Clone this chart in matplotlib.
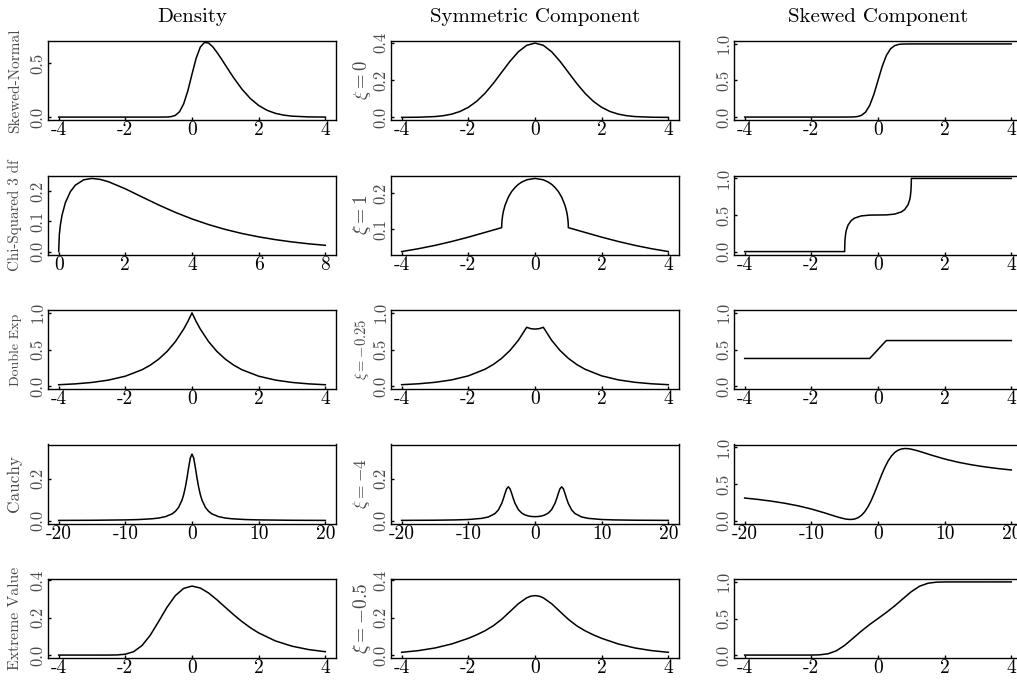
import matplotlib
matplotlib.use("Agg")
import matplotlib.pyplot as plt

plt.rcParams['font.family'] = ['cmr10', 'DejaVu Serif']
plt.rcParams['mathtext.fontset'] = 'cm'
plt.rcParams['axes.unicode_minus'] = False

# ---------------- data ----------------
col_titles = ["Density", "Symmetric Component", "Skewed Component"]
row_labels = ["Skewed-Normal", "Chi-Squared 3 df", "Double Exp", "Cauchy", "Extreme Value"]
xi_labels = [r"$\xi = 0$", r"$\xi = 1$", r"$\xi = -0.25$", r"$\xi = -4$", r"$\xi = -0.5$"]

# Row 1: skewed normal
sn_x = [-4, -2, -1, -0.75, -0.625, -0.5, -0.375, -0.25, -0.125, 0, 0.125, 0.25, 0.375, 0.5,
        0.625, 0.75, 0.875, 1, 1.125, 1.25, 1.5, 1.75, 2, 2.25, 2.5, 2.75, 3, 3.5, 4]
sn_y = [0, 0, 0.0000, 0.0008, 0.0041, 0.0161, 0.0497, 0.1227, 0.2442, 0.3989, 0.5474, 0.6507,
        0.6939, 0.6881, 0.6523, 0.6014, 0.5439, 0.4839, 0.4238, 0.3652, 0.2590, 0.1726, 0.1080,
        0.0634, 0.0350, 0.0182, 0.0088, 0.0017, 0.0003]
sn_sym_x = [-4, -3.5, -3, -2.75, -2.5, -2.25, -2, -1.75, -1.5, -1.25, -1, -0.75, -0.5, -0.25, 0,
            0.25, 0.5, 0.75, 1, 1.25, 1.5, 1.75, 2, 2.25, 2.5, 2.75, 3, 3.5, 4]
sn_sym_y = [0.0001, 0.0009, 0.0044, 0.0091, 0.0175, 0.0317, 0.0540, 0.0863, 0.1295, 0.1826,
            0.2420, 0.3011, 0.3521, 0.3867, 0.3989, 0.3867, 0.3521, 0.3011, 0.2420, 0.1826,
            0.1295, 0.0863, 0.0540, 0.0317, 0.0175, 0.0091, 0.0044, 0.0009, 0.0001]
sn_skw_x = [-4, -1, -0.75, -0.625, -0.5, -0.375, -0.25, -0.125, 0, 0.125, 0.25, 0.375, 0.5,
            0.625, 0.75, 1, 4]
sn_skw_y = [0, 0.0000, 0.0013, 0.0062, 0.0228, 0.0668, 0.1587, 0.3085, 0.5, 0.6915, 0.8413,
            0.9332, 0.9772, 0.9938, 0.9987, 1.0, 1.0]

# Row 2: chi-squared 3 df
chi_x = [0, 0.02, 0.05, 0.1, 0.2, 0.35, 0.5, 0.75, 1, 1.25, 1.5, 2, 2.5, 3, 3.5, 4, 4.5, 5,
         5.5, 6, 6.5, 7, 7.5, 8]
chi_y = [0, 0.0559, 0.0870, 0.1200, 0.1614, 0.1981, 0.2197, 0.2374, 0.2420, 0.2387, 0.2308,
         0.2076, 0.1807, 0.1542, 0.1297, 0.1080, 0.0892, 0.0732, 0.0598, 0.0487, 0.0395,
         0.0319, 0.0257, 0.0207]
chi_sym_x = [-4, -3.5, -3, -2.5, -2, -1.5, -1, -0.999, -0.99, -0.97, -0.95, -0.9, -0.8, -0.7,
             -0.6, -0.5, -0.4, -0.25, 0, 0.25, 0.4, 0.5, 0.6, 0.7, 0.8, 0.9, 0.95, 0.97, 0.99,
             0.999, 1, 1.5, 2, 2.5, 3, 3.5, 4]
chi_sym_y = [0.0366, 0.0446, 0.0540, 0.0649, 0.0771, 0.0904, 0.1038, 0.1101, 0.1239, 0.1386,
             0.1486, 0.1663, 0.1895, 0.2052, 0.2166, 0.2253, 0.2316, 0.2381, 0.2420, 0.2381,
             0.2316, 0.2253, 0.2166, 0.2052, 0.1895, 0.1663, 0.1486, 0.1386, 0.1239, 0.1101,
             0.1038, 0.0904, 0.0771, 0.0649, 0.0540, 0.0446, 0.0366]
chi_skw_x = [-4, -1, -0.999, -0.99, -0.97, -0.95, -0.9, -0.8, -0.7, -0.5, -0.25, 0, 0.25, 0.5,
             0.7, 0.8, 0.9, 0.95, 0.97, 0.99, 0.999, 1, 4]
chi_skw_y = [0, 0, 0.0572, 0.160, 0.2457, 0.2928, 0.3608, 0.4259, 0.4583, 0.4877, 0.4986, 0.5,
             0.5014, 0.5123, 0.5417, 0.5741, 0.6392, 0.7072, 0.7543, 0.840, 0.9428, 1.0, 1.0]

# Row 3: double exponential
de_x = [-4, -3.5, -3, -2.5, -2, -1.5, -1.25, -1, -0.75, -0.5, -0.25, -0.125, 0, 0.125, 0.25,
        0.5, 0.75, 1, 1.25, 1.5, 2, 2.5, 3, 3.5, 4]
de_y = [0.0183, 0.0302, 0.0498, 0.0821, 0.1353, 0.2231, 0.2865, 0.3679, 0.4724, 0.6065,
        0.7788, 0.8825, 1.0, 0.8825, 0.7788, 0.6065, 0.4724, 0.3679, 0.2865, 0.2231, 0.1353,
        0.0821, 0.0498, 0.0302, 0.0183]
de_sym_x = de_x
de_sym_y = [0.0189, 0.0311, 0.0514, 0.0847, 0.1396, 0.2301, 0.2955, 0.3795, 0.4872, 0.6256,
            0.8033, 0.7849, 0.7788, 0.7849, 0.8033, 0.6256, 0.4872, 0.3795, 0.2955, 0.2301,
            0.1396, 0.0847, 0.0514, 0.0311, 0.0189]
de_skw_x = [-4, -0.25, -0.125, 0, 0.125, 0.25, 4]
de_skw_y = [0.3775, 0.3775, 0.4378, 0.5, 0.5622, 0.6225, 0.6225]

# Row 4: Cauchy
ca_x = [-20, -15, -10, -8, -6, -5, -4, -3, -2.5, -2, -1.5, -1.25, -1, -0.75, -0.5, -0.25, 0,
        0.25, 0.5, 0.75, 1, 1.25, 1.5, 2, 2.5, 3, 4, 5, 6, 8, 10, 15, 20]
ca_y = [0.0008, 0.0014, 0.0032, 0.0049, 0.0086, 0.0122, 0.0187, 0.0318, 0.0439, 0.0637,
        0.0979, 0.1242, 0.1592, 0.2037, 0.2546, 0.2996, 0.3183, 0.2996, 0.2546, 0.2037,
        0.1592, 0.1242, 0.0979, 0.0637, 0.0439, 0.0318, 0.0187, 0.0122, 0.0086, 0.0049,
        0.0032, 0.0014, 0.0008]
ca_sym_x = [-20, -15, -12, -10, -8, -7, -6, -5.5, -5, -4.75, -4.5, -4.25, -4, -3.75, -3.5,
            -3.25, -3, -2.5, -2, -1.5, -1, -0.5, 0, 0.5, 1, 1.5, 2, 2.5, 3, 3.25, 3.5, 3.75,
            4, 4.25, 4.5, 4.75, 5, 5.5, 6, 7, 8, 10, 12, 15, 20]
ca_sym_y = [0.0009, 0.0017, 0.0031, 0.0051, 0.0105, 0.0172, 0.0335, 0.0507, 0.0816, 0.1039,
            0.1295, 0.1521, 0.1616, 0.1524, 0.1301, 0.1049, 0.0828, 0.0527, 0.0362, 0.0271,
            0.0220, 0.0195, 0.0187, 0.0195, 0.0220, 0.0271, 0.0362, 0.0527, 0.0828, 0.1049,
            0.1301, 0.1524, 0.1616, 0.1521, 0.1295, 0.1039, 0.0816, 0.0507, 0.0335, 0.0172,
            0.0105, 0.0051, 0.0031, 0.0017, 0.0009]
ca_skw_x = [-20, -18, -16, -14, -12, -10, -8, -7, -6, -5, -4.5, -4, -3.5, -3, -2.5, -2, -1.5,
            -1, -0.5, 0, 0.5, 1, 1.5, 2, 2.5, 3, 3.5, 4, 4.5, 5, 6, 7, 8, 10, 12, 14, 16, 18, 20]
ca_skw_y = [0.3082, 0.2889, 0.2656, 0.2371, 0.2019, 0.1581, 0.1049, 0.0758, 0.0472, 0.0238,
            0.0168, 0.0152, 0.0214, 0.0385, 0.0699, 0.1190, 0.1883, 0.2778, 0.3841, 0.5,
            0.6159, 0.7222, 0.8117, 0.8810, 0.9301, 0.9615, 0.9786, 0.9848, 0.9832, 0.9762,
            0.9528, 0.9242, 0.8951, 0.8419, 0.7981, 0.7629, 0.7344, 0.7111, 0.6918]

# Row 5: extreme value
ev_x = [-4, -3, -2.5, -2.25, -2, -1.75, -1.5, -1.25, -1, -0.75, -0.5, -0.25, 0, 0.25, 0.5,
        0.75, 1, 1.25, 1.5, 1.75, 2, 2.5, 3, 3.5, 4]
ev_y = [0, 0, 0.0001, 0.0007, 0.0046, 0.0182, 0.0507, 0.1064, 0.1794, 0.2549, 0.3170, 0.3555,
        0.3679, 0.3574, 0.3307, 0.2945, 0.2546, 0.2151, 0.1785, 0.1460, 0.1182, 0.0756,
        0.0474, 0.0293, 0.0180]
ev_sym_x = [-4, -3.5, -3, -2.5, -2, -1.75, -1.5, -1.25, -1, -0.75, -0.5, -0.25, -0.125, 0,
            0.125, 0.25, 0.5, 0.75, 1, 1.25, 1.5, 1.75, 2, 2.5, 3, 3.5, 4]
ev_sym_y = [0.0147, 0.0237, 0.0378, 0.0591, 0.0893, 0.1079, 0.1296, 0.1564, 0.1907, 0.2319,
            0.2737, 0.3052, 0.3141, 0.3170, 0.3141, 0.3052, 0.2737, 0.2319, 0.1907, 0.1564,
            0.1296, 0.1079, 0.0893, 0.0591, 0.0378, 0.0237, 0.0147]
ev_skw_x = [-4, -2, -1.75, -1.5, -1.25, -1, -0.75, -0.5, -0.25, 0, 0.25, 0.5, 0.75, 1, 1.25,
            1.5, 1.75, 2, 4]
ev_skw_y = [0, 0.0003, 0.0033, 0.0177, 0.0582, 0.1329, 0.2294, 0.3278, 0.4176, 0.5, 0.5824,
            0.6722, 0.7706, 0.8671, 0.9418, 0.9823, 0.9967, 0.9997, 1.0]

# tick values / labels
xt_std = [-4, -2, 0, 2, 4]
xt_std_lab = ["-4", "-2", "0", "2", "4"]
xt_chi = [0, 2, 4, 6, 8]
xt_chi_lab = ["0", "2", "4", "6", "8"]
xt_ca = [-20, -10, 0, 10, 20]
xt_ca_lab = ["-20", "-10", "0", "10", "20"]
yt_skw = [0.0, 0.5, 1.0]
yt_skw_lab = ["0.0", "0.5", "1.0"]

series = [
    [(sn_x, sn_y), (sn_sym_x, sn_sym_y), (sn_skw_x, sn_skw_y)],
    [(chi_x, chi_y), (chi_sym_x, chi_sym_y), (chi_skw_x, chi_skw_y)],
    [(de_x, de_y), (de_sym_x, de_sym_y), (de_skw_x, de_skw_y)],
    [(ca_x, ca_y), (ca_sym_x, ca_sym_y), (ca_skw_x, ca_skw_y)],
    [(ev_x, ev_y), (ev_sym_x, ev_sym_y), (ev_skw_x, ev_skw_y)],
]

row_xlim = [[(-4.32, 4.32)] * 3,
            [(-0.32, 8.32), (-4.32, 4.32), (-4.32, 4.32)],
            [(-4.32, 4.32)] * 3,
            [(-21.6, 21.6)] * 3,
            [(-4.32, 4.32)] * 3]
row_xt = [[(xt_std, xt_std_lab)] * 3,
          [(xt_chi, xt_chi_lab), (xt_std, xt_std_lab), (xt_std, xt_std_lab)],
          [(xt_std, xt_std_lab)] * 3,
          [(xt_ca, xt_ca_lab)] * 3,
          [(xt_std, xt_std_lab)] * 3]
row_ylim = [[(-0.027, 0.707), (-0.014, 0.41)],
            [(-0.0097, 0.2517), (0.0284, 0.2502)],
            [(-0.04, 1.04), (-0.04, 1.04)],
            [(-0.014, 0.364), (-0.014, 0.364)],
            [(-0.0156, 0.4056), (-0.0156, 0.4056)]]
row_yt = [[([0.0, 0.5], ["0.0", "0.5"]), ([0.0, 0.2, 0.4], ["0.0", "0.2", "0.4"])],
          [([0.0, 0.1, 0.2], ["0.0", "0.1", "0.2"]), ([0.1, 0.2], ["0.1", "0.2"])],
          [(yt_skw, yt_skw_lab), (yt_skw, yt_skw_lab)],
          [([0.0, 0.2], ["0.0", "0.2"]), ([0.0, 0.2], ["0.0", "0.2"])],
          [([0.0, 0.2, 0.4], ["0.0", "0.2", "0.4"]), ([0.0, 0.2, 0.4], ["0.0", "0.2", "0.4"])]]
row_label_size = [11, 10.8, 10, 12.4, 11.3]
xi_size = [13.5, 14, 10.5, 12.5, 14]

# ---------------- layout ----------------
W, H = 1017, 681
fig = plt.figure(figsize=(W / 100, H / 100), dpi=100)
col_left = [48, 391, 734]
row_top = [41, 175.5, 310, 444.5, 579]
pw, ph = 288, 79
gray = '#4a4a4a'

for r in range(5):
    for c in range(3):
        ax = fig.add_axes([col_left[c] / W, 1 - (row_top[r] + ph) / H, pw / W, ph / H])
        xs, ys = series[r][c]
        ax.plot(xs, ys, color='black', lw=1.1)
        ax.set_xlim(*row_xlim[r][c])
        if c < 2:
            ax.set_ylim(*row_ylim[r][c])
            yt, ytl = row_yt[r][c]
        else:
            ax.set_ylim(-0.04, 1.04)
            yt, ytl = yt_skw, yt_skw_lab
        xt, xtl = row_xt[r][c]
        ax.set_xticks(xt)
        ax.set_xticklabels(xtl, fontsize=14)
        ax.set_yticks(yt)
        ax.set_yticklabels(ytl, fontsize=12, rotation=90, va='center', color=gray)
        ax.tick_params(axis='both', direction='in', length=2, width=1)
        ax.tick_params(axis='x', pad=1)
        ax.tick_params(axis='y', pad=2)
        for s in ax.spines.values():
            s.set_linewidth(1.0)
            s.set_color('black')

    yc = 1 - (row_top[r] + ph / 2) / H
    fig.text(19 / W, yc, row_labels[r], rotation=90, rotation_mode='anchor',
             ha='center', va='baseline', fontsize=row_label_size[r], color=gray)
    fig.text(362 / W, yc, xi_labels[r], rotation=90, ha='center', va='center',
             fontsize=xi_size[r], color=gray)

for c in range(3):
    fig.text((col_left[c] + pw / 2) / W, 1 - 17 / H, col_titles[c], ha='center', va='center',
             fontsize=15)

fig.savefig("out.png", dpi=100)
